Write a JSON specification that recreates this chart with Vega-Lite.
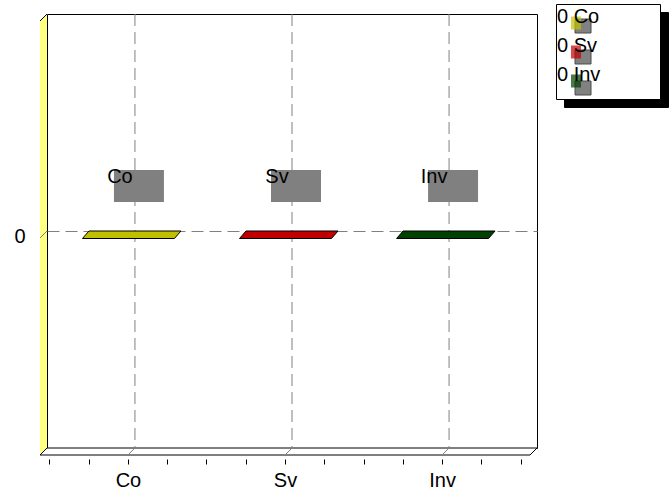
{
  "$schema": "https://vega.github.io/schema/vega-lite/v6.json",
  "width": 490,
  "height": 434,
  "autosize": {"type": "none"},
  "padding": {"left": 47, "top": 14, "right": 135, "bottom": 47},
  "background": "white",
  "config": {
    "view": {"stroke": "black", "strokeWidth": 1, "fill": "white"},
    "font": "Liberation Sans"
  },
  "data": {
    "values": [
      {"cat": "Co", "series": "Co", "key": "Co", "pos": 0, "value": 0},
      {"cat": "Sv", "series": "Sv", "key": "Sv", "pos": 1, "value": 0},
      {"cat": "Inv", "series": "Inv", "key": "Inv", "pos": 2, "value": 0}
    ]
  },
  "encoding": {
    "x": {
      "field": "pos", "type": "quantitative",
      "scale": {"domain": [-0.56, 2.56], "nice": false, "zero": false},
      "axis": {
        "orient": "bottom", "offset": 11, "title": null,
        "values": [-0.5, -0.25, 0, 0.25, 0.5, 0.75, 1, 1.25, 1.5, 1.75, 2, 2.25, 2.5],
        "tickOffset": -7, "domain": false, "grid": false,
        "tickSize": 5, "tickColor": "black", "tickWidth": 1,
        "labelExpr": "datum.value === 0 ? 'Co' : datum.value === 1 ? 'Sv' : datum.value === 2 ? 'Inv' : ''",
        "labelFont": "Liberation Sans", "labelFontSize": 20, "labelColor": "black",
        "labelPadding": 6, "labelAngle": 0, "labelOverlap": false, "labelFlush": false, "labelBaseline": "top"
      }
    },
    "y": {
      "field": "value", "type": "quantitative",
      "scale": {"domain": [-1, 1], "nice": false, "zero": false},
      "axis": {
        "orient": "left", "title": null, "values": [0], "ticks": false, "domain": false,
        "grid": true, "gridDash": [12, 6], "gridColor": "#808080", "gridWidth": 1,
        "labelFont": "Liberation Sans", "labelFontSize": 20, "labelColor": "black",
        "labelPadding": 22, "labelOffset": 5
      }
    }
  },
  "layer": [
    {
      "data": {"values": [{"pos": -0.56, "value": 1}]},
      "mark": {"type": "point", "filled": true, "shape": "M0,0L0,4.34L-0.07,4.41L-0.07,0.07Z", "size": 40000, "fill": "#ffff80", "strokeWidth": 0, "opacity": 1}
    },
    {
      "data": {"values": [{"pos": -0.56, "value": 1}]},
      "mark": {"type": "point", "filled": false, "shape": "M0,0L-0.07,0.07", "size": 40000, "stroke": "black", "strokeWidth": 1, "opacity": 1}
    },
    {
      "data": {"values": [{"pos": -0.56, "value": -1}]},
      "mark": {"type": "point", "filled": true, "shape": "M0,0L4.9,0L4.83,0.07L-0.07,0.07Z", "size": 40000, "fill": "white", "stroke": "black", "strokeWidth": 1, "opacity": 1}
    },
    {
      "data": {"values": [{"pos": -0.56, "value": 0}]},
      "mark": {"type": "point", "filled": false, "shape": "M0,0L-0.07,0.07", "size": 40000, "stroke": "#808080", "strokeWidth": 1, "opacity": 1}
    },
    {
      "mark": {"type": "rule", "color": "#808080", "strokeWidth": 1, "strokeDash": [12, 6]},
      "encoding": {"y": null}
    },
    {
      "mark": {"type": "point", "filled": false, "shape": "M0,2.17L-0.07,2.24", "size": 40000, "stroke": "#808080", "strokeWidth": 1, "opacity": 1}
    },
    {
      "mark": {"type": "point", "filled": true, "shape": "M-0.92,0L0.92,0L0.79,0.15L-1.05,0.15Z", "size": 10000, "strokeWidth": 1},
      "encoding": {
        "color": {
          "field": "series", "type": "nominal", "sort": ["Co", "Sv", "Inv"],
          "scale": {"range": ["#c0c000", "#c00000", "#004000"]},
          "legend": {
            "orient": "none", "legendX": 509, "legendY": -2, "zindex": 3, "title": null,
            "symbolType": "M-0.77,-1L0.77,-1L0.77,1L-0.77,1ZM12.46,2.77L12.46,2.77", "symbolSize": 169, "symbolStrokeWidth": 1,
            "labelExpr": "'0 ' + datum.label",
            "labelFont": "Liberation Sans", "labelFontSize": 20, "labelColor": "black", "labelBaseline": "alphabetic",
            "labelOffset": -29, "symbolOffset": 9, "rowPadding": -9, "padding": 1, "labelLimit": 300,
            "encode": {"symbols": {
              "fill": {"signal": "datum.value === 'Co' ? '#ffff00' : datum.value === 'Sv' ? '#ff0000' : '#008000'"},
              "stroke": {"value": "black"}, "opacity": {"value": 1}
            }}
          }
        },
        "stroke": {
          "field": "key", "type": "nominal", "sort": ["Co", "Sv", "Inv"],
          "scale": {"range": ["black", "black", "black"]},
          "legend": {
            "orient": "none", "legendX": 509, "legendY": -10, "zindex": 2, "title": null,
            "fillColor": "white", "strokeColor": "black",
            "symbolType": "M-0.15,0.62L2.31,0.62L2.31,2.77L-0.15,2.77ZM-0.77,-1L-0.77,-1M12.46,-1L12.46,-1", "symbolSize": 169, "symbolStrokeWidth": 1,
            "labelExpr": "'0 ' + datum.label",
            "labelFont": "Liberation Sans", "labelFontSize": 20, "labelColor": "transparent", "labelBaseline": "alphabetic",
            "labelOffset": -29, "symbolOffset": 9, "rowPadding": -9, "padding": 1, "labelLimit": 300,
            "encode": {"symbols": {
              "fill": {"value": "#c0c0c0"}, "stroke": {"value": "transparent"}, "opacity": {"value": 1}
            }}
          }
        },
        "opacity": {
          "field": "cat", "type": "ordinal", "sort": ["Co", "Sv", "Inv"],
          "scale": {"range": [1, 1]},
          "legend": {
            "orient": "none", "legendX": 517, "legendY": -2, "zindex": 1, "title": null,
            "fillColor": "black", "strokeColor": "black",
            "symbolType": "M-0.15,0.62L2.31,0.62L2.31,2.77L-0.15,2.77ZM-0.77,-1L-0.77,-1M12.46,-1L12.46,-1", "symbolSize": 169, "symbolStrokeWidth": 1,
            "labelExpr": "'0 ' + datum.label",
            "labelFont": "Liberation Sans", "labelFontSize": 20, "labelColor": "transparent", "labelBaseline": "alphabetic",
            "labelOffset": -29, "symbolOffset": 9, "rowPadding": -9, "padding": 1, "labelLimit": 300,
            "encode": {"symbols": {"fill": {"value": "transparent"}, "stroke": {"value": "transparent"}}}
          }
        }
      }
    },
    {
      "mark": {"type": "point", "filled": true, "shape": "M-1,-0.64L1,-0.64L1,0.64L-1,0.64Z", "size": 2500, "color": "#808080", "strokeWidth": 0, "opacity": 1, "xOffset": 4, "yOffset": -45}
    },
    {
      "mark": {"type": "text", "font": "Liberation Sans", "fontSize": 20, "color": "black", "align": "center", "baseline": "middle", "dx": -15, "dy": -54},
      "encoding": {"text": {"field": "cat", "type": "nominal"}}
    }
  ]
}
